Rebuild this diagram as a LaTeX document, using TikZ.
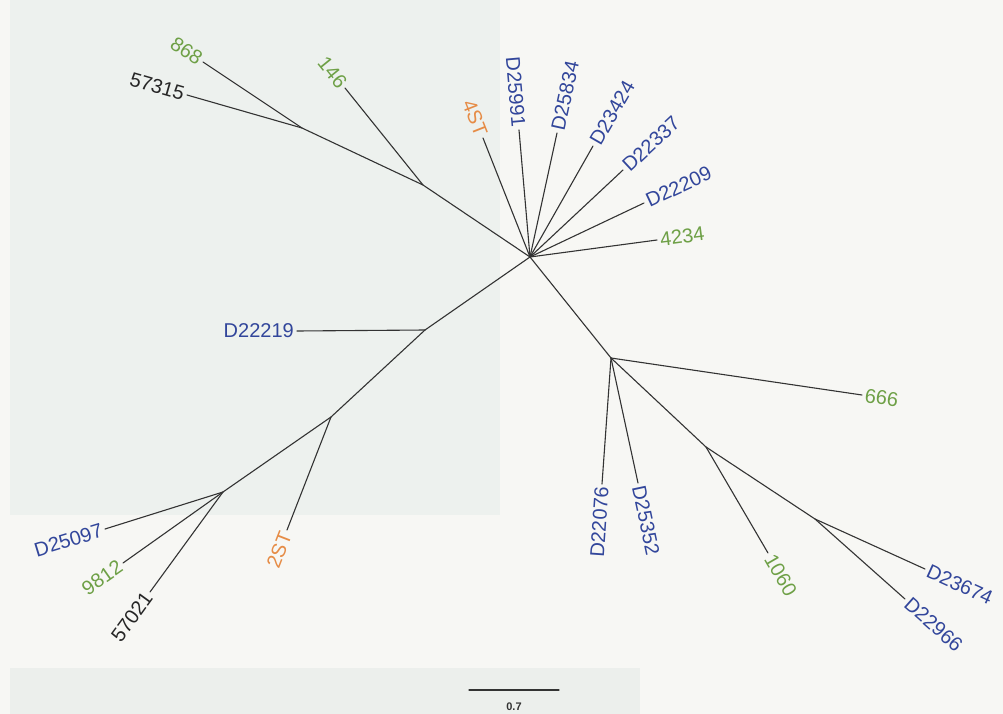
\documentclass[tikz,border=0pt]{standalone}
\usepackage{fontspec}
\setmainfont{Liberation Sans}
\begin{document}
\begin{tikzpicture}[x=1pt,y=-1pt,
  branch/.style={draw=black!80, line width=1.1pt, line cap=round},
  leaf/.style={font=\fontsize{20}{22}\selectfont, inner sep=3pt},
  lw/.style={leaf, anchor=west},
  le/.style={leaf, anchor=east},
  blu/.style={text={rgb,255:red,50;green,70;blue,155}},
  grn/.style={text={rgb,255:red,110;green,160;blue,70}},
  org/.style={text={rgb,255:red,230;green,140;blue,70}},
  blk/.style={text=black!85}]
% page background
\fill[fill={rgb,255:red,247;green,247;blue,244}] (0,0) rectangle (1003,714);
\fill[fill={rgb,255:red,237;green,241;blue,238}] (10,0) rectangle (500,515);
\fill[fill={rgb,255:red,236;green,239;blue,236}] (10,668) rectangle (640,714);
\useasboundingbox (0,0) rectangle (1003,714);

% internal nodes
\coordinate (hub) at (530,257);
\coordinate (A) at (423,185);
\coordinate (B) at (302,128);
\coordinate (C) at (425,330);
\coordinate (D) at (331,417);
\coordinate (E) at (223,492);
\coordinate (F) at (611,358);
\coordinate (G) at (706,447);
\coordinate (H) at (815,519);

% leaf tips
\coordinate (t868) at (203,62);
\coordinate (t57315) at (187,95);
\coordinate (t146) at (345,88);
\coordinate (t4ST) at (483,138);
\coordinate (tD25991) at (519,130);
\coordinate (tD25834) at (557,133);
\coordinate (tD23424) at (593,146);
\coordinate (tD22337) at (623,170);
\coordinate (tD22209) at (644,203);
\coordinate (t4234) at (657,240);
\coordinate (tD22219) at (297,331);
\coordinate (t2ST) at (287,530);
\coordinate (tD25097) at (105,529);
\coordinate (t9812) at (123,563);
\coordinate (t57021) at (150,592);
\coordinate (t666) at (862,395);
\coordinate (tD22076) at (602,484);
\coordinate (tD25352) at (638,483);
\coordinate (t1060) at (768,553);
\coordinate (tD23674) at (925,569);
\coordinate (tD22966) at (905,599);

% branches
\draw[branch] (hub) -- (A);
\draw[branch] (A) -- (B);
\draw[branch] (B) -- (t868);
\draw[branch] (B) -- (t57315);
\draw[branch] (A) -- (t146);
\draw[branch] (hub) -- (t4ST);
\draw[branch] (hub) -- (tD25991);
\draw[branch] (hub) -- (tD25834);
\draw[branch] (hub) -- (tD23424);
\draw[branch] (hub) -- (tD22337);
\draw[branch] (hub) -- (tD22209);
\draw[branch] (hub) -- (t4234);
\draw[branch] (hub) -- (C);
\draw[branch] (C) -- (tD22219);
\draw[branch] (C) -- (D);
\draw[branch] (D) -- (t2ST);
\draw[branch] (D) -- (E);
\draw[branch] (E) -- (tD25097);
\draw[branch] (E) -- (t9812);
\draw[branch] (E) -- (t57021);
\draw[branch] (hub) -- (F);
\draw[branch] (F) -- (t666);
\draw[branch] (F) -- (tD22076);
\draw[branch] (F) -- (tD25352);
\draw[branch] (F) -- (G);
\draw[branch] (G) -- (t1060);
\draw[branch] (G) -- (H);
\draw[branch] (H) -- (tD23674);
\draw[branch] (H) -- (tD22966);

% leaf labels
\node[le, grn, rotate=-34] (l868) at (t868) {868};
\node[le, blk, rotate=-16] (l57315) at (t57315) {57315};
\node[le, grn, rotate=-51] (l146) at (t146) {146};
\node[le, org, rotate=-68.5] (l4ST) at (t4ST) {4ST};
\node[le, blu, rotate=-85] (lD25991) at (tD25991) {D25991};
\node[lw, blu, rotate=77.7] (lD25834) at (tD25834) {D25834};
\node[lw, blu, rotate=60] (lD23424) at (tD23424) {D23424};
\node[lw, blu, rotate=43] (lD22337) at (tD22337) {D22337};
\node[lw, blu, rotate=25] (lD22209) at (tD22209) {D22209};
\node[lw, grn, rotate=7.6] (l4234) at (t4234) {4234};
\node[le, blu] (lD22219) at (tD22219) {D22219};
\node[le, org, rotate=68.7] (l2ST) at (t2ST) {2ST};
\node[le, blu, rotate=17] (lD25097) at (tD25097) {D25097};
\node[le, grn, rotate=35] (l9812) at (t9812) {9812};
\node[le, blk, rotate=54] (l57021) at (t57021) {57021};
\node[lw, grn, rotate=-8.4] (l666) at (t666) {666};
\node[le, blu, rotate=86] (lD22076) at (tD22076) {D22076};
\node[lw, blu, rotate=-78] (lD25352) at (tD25352) {D25352};
\node[lw, grn, rotate=-60] (l1060) at (t1060) {1060};
\node[lw, blu, rotate=-24.4] (lD23674) at (tD23674) {D23674};
\node[lw, blu, rotate=-41.6] (lD22966) at (tD22966) {D22966};

% scale bar
\coordinate (s0) at (469,690);
\coordinate (s1) at (559,690);
\draw[branch] (s0) -- (s1);
\node[font=\bfseries\fontsize{11}{12}\selectfont, text=black!80, inner sep=0pt] (scale) at (514,707) {0.7};
\end{tikzpicture}
\end{document}
